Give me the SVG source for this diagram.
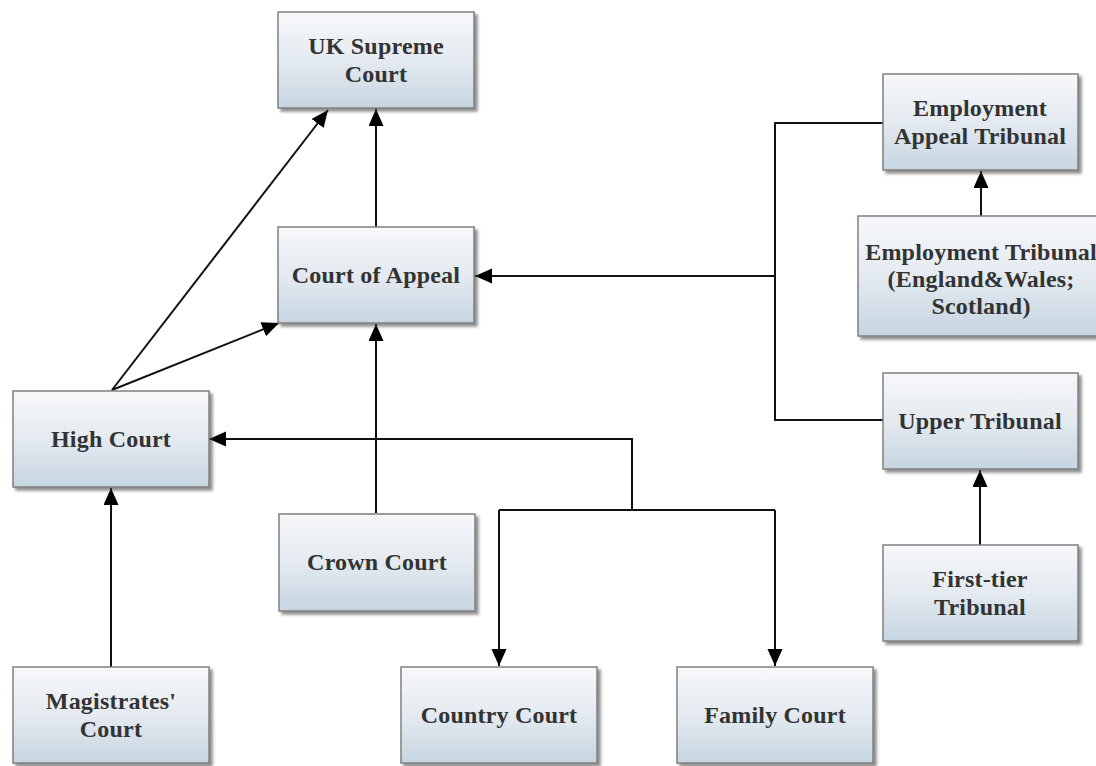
<svg xmlns="http://www.w3.org/2000/svg" width="1096" height="766" viewBox="0 0 1096 766">
<defs>
<linearGradient id="g" x1="0" y1="0" x2="0" y2="1">
<stop offset="0" stop-color="#f7f8fa"/>
<stop offset="0.5" stop-color="#e4eaf0"/>
<stop offset="1" stop-color="#c6d5e1"/>
</linearGradient>
<filter id="sh" x="-10%" y="-10%" width="130%" height="130%">
<feDropShadow dx="3" dy="3" stdDeviation="1.5" flood-color="#444" flood-opacity="0.6"/>
</filter>
<marker id="ah" markerUnits="userSpaceOnUse" markerWidth="18" markerHeight="16" refX="17" refY="7.5" orient="auto">
<path d="M0,0 L17,7.5 L0,15 Z" fill="#000"/>
</marker>
</defs>
<style>
.box{fill:url(#g);stroke:#808080;stroke-width:1.5;filter:url(#sh)}
.t{font-family:"Liberation Serif","Times New Roman",serif;font-weight:bold;font-size:24px;letter-spacing:0.2px;fill:#333;text-anchor:middle}
.c{fill:none;stroke:#111;stroke-width:2}
.a{marker-end:url(#ah)}
</style>
<rect width="1096" height="766" fill="#fff"/>
<g id="connectors">
<line class="c a" x1="376" y1="227" x2="376" y2="109"/>
<line class="c a" x1="112" y1="390" x2="328" y2="110"/>
<line class="c a" x1="112" y1="390" x2="279" y2="323"/>
<line class="c a" x1="376" y1="513" x2="376" y2="324"/>
<line class="c a" x1="111" y1="667" x2="111" y2="488"/>
<polyline class="c a" points="632,510 632,439 209,439"/>
<polyline class="c" points="499,510 775,510"/>
<line class="c a" x1="499" y1="510" x2="499" y2="666"/>
<line class="c a" x1="775" y1="510" x2="775" y2="666"/>
<polyline class="c" points="883,123 775,123 775,420 883,420"/>
<line class="c a" x1="775" y1="276" x2="475" y2="276"/>
<line class="c a" x1="981" y1="216" x2="981" y2="171"/>
<line class="c a" x1="980" y1="545" x2="980" y2="470"/>
</g>
<g id="uk-supreme-court">
<rect class="box" x="278" y="12" width="196" height="96"/>
<text class="t" x="376" y="54">UK Supreme</text>
<text class="t" x="376" y="82">Court</text>
</g>
<g id="court-of-appeal">
<rect class="box" x="278" y="227" width="196" height="96"/>
<text class="t" x="376" y="283">Court of Appeal</text>
</g>
<g id="high-court">
<rect class="box" x="13" y="391" width="196" height="96"/>
<text class="t" x="111" y="447">High Court</text>
</g>
<g id="crown-court">
<rect class="box" x="279" y="514" width="196" height="97"/>
<text class="t" x="377" y="570">Crown Court</text>
</g>
<g id="magistrates-court">
<rect class="box" x="13" y="667" width="196" height="96"/>
<text class="t" x="111" y="709">Magistrates'</text>
<text class="t" x="111" y="737">Court</text>
</g>
<g id="country-court">
<rect class="box" x="401" y="667" width="196" height="96"/>
<text class="t" x="499" y="723">Country Court</text>
</g>
<g id="family-court">
<rect class="box" x="677" y="667" width="196" height="96"/>
<text class="t" x="775" y="723">Family Court</text>
</g>
<g id="employment-appeal-tribunal">
<rect class="box" x="883" y="74" width="195" height="96"/>
<text class="t" x="980" y="116">Employment</text>
<text class="t" x="980" y="144">Appeal Tribunal</text>
</g>
<g id="employment-tribunal">
<rect class="box" x="858" y="216" width="246" height="120"/>
<text class="t" x="981" y="260">Employment Tribunal</text>
<text class="t" x="981" y="287">(England&amp;Wales;</text>
<text class="t" x="981" y="314">Scotland)</text>
</g>
<g id="upper-tribunal">
<rect class="box" x="883" y="373" width="195" height="96"/>
<text class="t" x="980" y="429">Upper Tribunal</text>
</g>
<g id="first-tier-tribunal">
<rect class="box" x="883" y="545" width="195" height="96"/>
<text class="t" x="980" y="587">First-tier</text>
<text class="t" x="980" y="615">Tribunal</text>
</g>
</svg>
